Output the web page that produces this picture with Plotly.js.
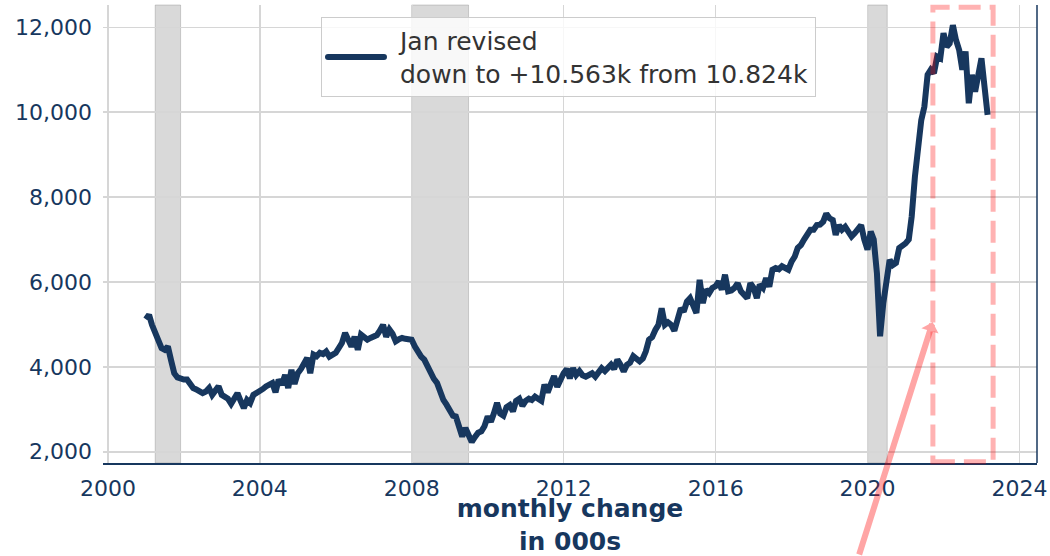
<!DOCTYPE html>
<html>
<head>
<meta charset="utf-8">
<script src="https://cdn.plot.ly/plotly-3.0.1.min.js"></script>
<style>html,body{margin:0;padding:0;background:#fff;}#chart{width:1050px;height:556px;}</style>
</head>
<body>
<div id="chart"></div>
<script>
// Job openings (thousands), monthly, month-end dates, starting Dec 2000
const startYear = 2000, startMonth = 12;
const v2000 = [5120];
const v2001 = [5225, 4990, 4800, 4600, 4440, 4400, 4480, 4150, 3850, 3750, 3720, 3700];
const v2002 = [3700, 3575, 3500, 3470, 3440, 3380, 3420, 3500, 3340, 3420, 3540, 3340];
const v2003 = [3300, 3250, 3130, 3250, 3380, 3200, 3030, 3220, 3150, 3340, 3380, 3420];
const v2004 = [3480, 3540, 3600, 3620, 3400, 3700, 3580, 3810, 3500, 3930, 3600, 3850];
const v2005 = [3950, 4100, 4210, 3850, 4290, 4250, 4330, 4300, 4360, 4240, 4300, 4330];
const v2006 = [4450, 4560, 4800, 4600, 4480, 4710, 4400, 4760, 4700, 4640, 4680, 4710];
const v2007 = [4750, 4850, 4990, 4710, 4880, 4780, 4600, 4650, 4680, 4660, 4650, 4640];
const v2008 = [4480, 4350, 4240, 4170, 4010, 3850, 3720, 3620, 3380, 3220, 3110, 2950];
const v2009 = [2850, 2830, 2600, 2360, 2560, 2350, 2230, 2350, 2450, 2480, 2600, 2830];
const v2010 = [2710, 2900, 3150, 2900, 2850, 3050, 3100, 2950, 3200, 3250, 3080, 3200];
const v2011 = [3250, 3220, 3300, 3250, 3200, 3580, 3400, 3600, 3780, 3530, 3700, 3850];
const v2012 = [3950, 3730, 3970, 3810, 3900, 3800, 3770, 3830, 3850, 3770, 3880, 3970];
const v2013 = [3900, 3980, 4050, 3950, 4170, 4050, 3890, 4050, 4100, 4250, 4200, 4130];
const v2014 = [4200, 4360, 4640, 4700, 4870, 4990, 5380, 4990, 5050, 4990, 4850, 5100];
const v2015 = [5380, 5300, 5540, 5620, 5400, 5270, 6050, 5500, 5820, 5740, 5860, 5900];
const v2016 = [6010, 5820, 6170, 5780, 5800, 5860, 5970, 5780, 5700, 5620, 5970, 5860];
const v2017 = [5620, 5940, 5860, 6090, 5890, 6290, 6330, 6300, 6370, 6330, 6290, 6480];
const v2018 = [6600, 6800, 6870, 7000, 7110, 7230, 7230, 7340, 7350, 7420, 7610, 7500];
const v2019 = [7460, 7110, 7340, 7230, 7300, 7200, 7070, 7150, 7230, 7340, 7000, 6760];
const v2020 = [7190, 7000, 6200, 4720, 5500, 6100, 6520, 6400, 6450, 6800, 6850, 6910];
const v2021 = [7000, 7540, 8480, 9270, 9810, 10130, 10880, 11000, 10920, 11310, 11270, 11860];
const v2022 = [11540, 11620, 12050, 11700, 11460, 11000, 11430, 10210, 10880, 10480, 10800, 11270];
const v2023 = [10563, 9935];

const seriesName = "Jan revised<br>down to +10.563k from 10.824k";
const recessions = [["2001-03-31", "2001-11-30"], ["2007-12-31", "2009-06-30"], ["2020-01-01", "2020-07-08"]];
const highlight = ["2021-09-20", "2023-04-22"];
const yearTicks = ["2000", "2004", "2008", "2012", "2016", "2020", "2024"];
const valueTicks = [2000, 4000, 6000, 8000, 10000, 12000];

const values = [].concat(v2000, v2001, v2002, v2003, v2004, v2005, v2006, v2007, v2008, v2009,
  v2010, v2011, v2012, v2013, v2014, v2015, v2016, v2017, v2018, v2019, v2020, v2021, v2022, v2023);

function monthEnd(y, m) {
  const d = new Date(Date.UTC(y, m, 0)).getUTCDate();
  return y + "-" + String(m).padStart(2, "0") + "-" + String(d).padStart(2, "0");
}
const dates = values.map((_, i) => {
  const k = startYear * 12 + (startMonth - 1) + i;
  return monthEnd(Math.floor(k / 12), (k % 12) + 1);
});

const navy = "#17375e";
const FONT = "DejaVu Sans, sans-serif";

const shapes = recessions.map(r => ({
  type: "rect", xref: "x", yref: "paper", x0: r[0], x1: r[1], y0: 0, y1: 1,
  fillcolor: "rgba(128,128,128,0.3)", line: {color: "rgba(128,128,128,0.35)", width: 1}, layer: "below"
}));
shapes.push({
  type: "rect", xref: "x", yref: "paper", x0: highlight[0], x1: highlight[1], y0: 0.003, y1: 0.995,
  fillcolor: "rgba(0,0,0,0)", line: {color: "rgba(255,0,0,0.3)", width: 5, dash: "22px,9px"}, layer: "above"
});
shapes.push({
  type: "line", xref: "paper", yref: "paper", x0: 1, x1: 1, y0: 0, y1: 1,
  line: {color: navy, width: 1.5}
});

const trace = {
  x: dates, y: values, type: "scatter", mode: "lines", name: seriesName,
  line: {color: navy, width: 6}, showlegend: true
};

const layout = {
  width: 1050, height: 556,
  margin: {l: 103, r: 13, t: 5, b: 93},
  paper_bgcolor: "#fff", plot_bgcolor: "#fff",
  font: {family: FONT, color: navy},
  showlegend: true,
  legend: {
    x: 0.2334, y: 0.974, xanchor: "left", yanchor: "top",
    bgcolor: "rgba(255,255,255,0.8)", bordercolor: "#cccccc", borderwidth: 1,
    itemwidth: 68,
    font: {family: FONT, size: 25, color: "#333333"}
  },
  xaxis: {
    type: "date", range: ["1999-11-15", "2024-06-17"],
    tickvals: yearTicks.map(y => y + "-01-01"), ticktext: yearTicks,
    tickfont: {family: FONT, size: 22, color: navy},
    showgrid: true, gridcolor: "#d6d6d6", gridwidth: 1.5,
    showline: true, linecolor: navy, linewidth: 1.5,
    ticks: "", zeroline: false, ticklabelstandoff: 5,
    title: {text: "<b>monthly change<br>in 000s</b>", font: {family: FONT, size: 25, color: navy}, standoff: 8}
  },
  yaxis: {
    range: [1735, 12525], tickvals: valueTicks, tickformat: ",",
    tickfont: {family: FONT, size: 22, color: navy},
    showgrid: true, gridcolor: "#d6d6d6", gridwidth: 1.5,
    showline: false, ticks: "", zeroline: false, ticklabelstandoff: 10
  },
  shapes: shapes,
  annotations: [{
    x: "2021-09-18", y: 5050, xref: "x", yref: "y", text: "",
    showarrow: true, ax: -74, ay: 262, axref: "pixel", ayref: "pixel",
    arrowcolor: "rgba(255,0,0,0.35)", arrowwidth: 6, arrowhead: 1, arrowsize: 0.5, standoff: 0
  }]
};

Plotly.newPlot("chart", [trace], layout, {displayModeBar: false, staticPlot: true}).then(gd => {
  gd.querySelectorAll(".legendlines path").forEach(p => {
    p.setAttribute("d", "M6,0h56");
    p.style.strokeLinecap = "round";
  });
});
</script>
</body>
</html>
